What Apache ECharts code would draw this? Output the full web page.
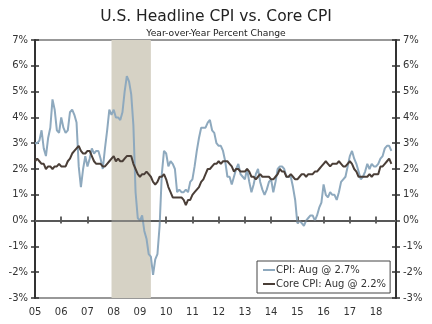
<!DOCTYPE html>
<html><head><meta charset="utf-8">
<script src="https://cdn.jsdelivr.net/npm/echarts@6/dist/echarts.min.js"></script>
<style>html,body{margin:0;padding:0;background:#fff}#c{width:432px;height:324px}</style>
</head><body><div id="c"></div>
<script>
// Monthly data, Jan 2005 .. Aug 2018 (year-over-year % change)
const startYear = 2005;
const cpi = [
 3.0,3.0,3.1,3.5,2.8,2.5,3.2,3.6,4.7,4.3,3.5,3.4,
 4.0,3.6,3.4,3.5,4.2,4.3,4.1,3.8,2.1,1.3,2.0,2.5,
 2.1,2.4,2.8,2.6,2.7,2.7,2.4,2.0,2.8,3.5,4.3,4.1,
 4.3,4.0,4.0,3.9,4.2,5.0,5.6,5.4,4.9,3.7,1.1,0.1,
 0.0,0.2,-0.4,-0.7,-1.3,-1.4,-2.1,-1.5,-1.3,-0.2,1.8,2.7,
 2.6,2.1,2.3,2.2,2.0,1.1,1.2,1.1,1.1,1.2,1.1,1.5,
 1.6,2.1,2.7,3.2,3.6,3.6,3.6,3.8,3.9,3.5,3.4,3.0,
 2.9,2.9,2.7,2.3,1.7,1.7,1.4,1.7,2.0,2.2,1.8,1.7,
 1.6,2.0,1.5,1.1,1.4,1.8,2.0,1.5,1.2,1.0,1.2,1.5,
 1.6,1.1,1.5,2.0,2.1,2.1,2.0,1.7,1.7,1.7,1.3,0.8,
 -0.1,0.0,-0.1,-0.2,0.0,0.1,0.2,0.2,0.0,0.2,0.5,0.7,
 1.4,1.0,0.9,1.1,1.0,1.0,0.8,1.1,1.5,1.6,1.7,2.1,
 2.5,2.7,2.4,2.2,1.9,1.6,1.7,1.9,2.2,2.0,2.2,2.1,
 2.1,2.2,2.4,2.5,2.8,2.9,2.9,2.7
];
const core = [
 2.3,2.4,2.3,2.2,2.2,2.0,2.1,2.1,2.0,2.1,2.1,2.2,
 2.1,2.1,2.1,2.3,2.4,2.6,2.7,2.8,2.9,2.7,2.6,2.6,
 2.7,2.7,2.5,2.3,2.2,2.2,2.2,2.1,2.1,2.2,2.3,2.4,
 2.5,2.3,2.4,2.3,2.3,2.4,2.5,2.5,2.5,2.2,2.0,1.8,
 1.7,1.8,1.8,1.9,1.8,1.7,1.5,1.4,1.5,1.7,1.7,1.8,
 1.6,1.3,1.1,0.9,0.9,0.9,0.9,0.9,0.8,0.6,0.8,0.8,
 1.0,1.1,1.2,1.3,1.5,1.6,1.8,2.0,2.0,2.1,2.2,2.2,
 2.3,2.2,2.3,2.3,2.3,2.2,2.1,1.9,2.0,2.0,1.9,1.9,
 1.9,2.0,1.9,1.7,1.7,1.6,1.7,1.8,1.7,1.7,1.7,1.7,
 1.6,1.6,1.7,1.8,2.0,1.9,1.9,1.7,1.7,1.8,1.7,1.6,
 1.6,1.7,1.8,1.8,1.7,1.8,1.8,1.8,1.9,1.9,2.0,2.1,
 2.2,2.3,2.2,2.1,2.2,2.2,2.2,2.3,2.2,2.1,2.1,2.2,
 2.3,2.2,2.0,1.9,1.7,1.7,1.7,1.7,1.7,1.8,1.7,1.8,
 1.8,1.8,2.1,2.1,2.2,2.3,2.4,2.2
];
const seriesNames = ['CPI: Aug @ 2.7%', 'Core CPI: Aug @ 2.2%'];
const recession = [2007 + 11/12, 2009 + 5/12]; // Dec 2007 - Jun 2009
const xMin = 2005, xMax = 2018.76;

const toPts = arr => arr.map((v, i) => [startYear + i/12, v]);
const font = 'DejaVu Sans';
const axisCol = '#333';
const yFmt = v => v + '%';
const xFmt = v => Number.isInteger(v) ? String(v % 100).padStart(2, '0') : '';

const chart = echarts.init(document.getElementById('c'), null, {renderer: 'canvas'});
chart.setOption({
  animation: false,
  backgroundColor: '#fff',
  title: [
    {text: 'U.S. Headline CPI vs. Core CPI', left: 'center', top: 4,
     textStyle: {fontFamily: font, fontSize: 15.5, fontWeight: 'normal', color: '#222'}},
    {text: 'Year-over-Year Percent Change', left: 'center', top: 24,
     textStyle: {fontFamily: font, fontSize: 9.2, fontWeight: 'normal', color: '#222'}}
  ],
  grid: {left: 35, right: 36, top: 40, bottom: 26, show: true, borderColor: axisCol, borderWidth: 1.2, backgroundColor: 'transparent'},
  legend: {
    orient: 'vertical', left: 257, top: 261, itemGap: 4,
    itemWidth: 12, itemHeight: 2, padding: [4, 4, 4, 6],
    borderColor: '#444', borderWidth: 1, backgroundColor: '#fff',
    textStyle: {fontFamily: font, fontSize: 10, color: '#333', padding: [0,0,0,-4]},
    data: [{name: seriesNames[0], icon: 'rect'}, {name: seriesNames[1], icon: 'rect'}]
  },
  xAxis: [
    {type: 'value', min: xMin, max: xMax, interval: 1,
     axisLine: {lineStyle: {color: axisCol, width: 2}},
     axisTick: {show: true, length: 3, inside: false, lineStyle: {color: axisCol, width: 1.5}},
     axisLabel: {formatter: xFmt, fontFamily: font, fontSize: 10, color: '#333', margin: 9},
     splitLine: {show: false}},
    {type: 'value', min: xMin, max: xMax, interval: 1, position: 'bottom',
     axisLine: {show: false},
     axisTick: {show: true, length: 4, inside: true, lineStyle: {color: axisCol, width: 1.5}},
     axisLabel: {show: false}, splitLine: {show: false}}
  ],
  yAxis: [
    {type: 'value', min: -3, max: 7, interval: 1, position: 'left',
     axisLine: {show: true, lineStyle: {color: axisCol, width: 2}},
     axisTick: {show: true, length: 4, lineStyle: {color: axisCol, width: 1.5}},
     axisLabel: {formatter: yFmt, fontFamily: font, fontSize: 10, color: '#333', margin: 7},
     splitLine: {show: false}},
    {type: 'value', min: -3, max: 7, interval: 1, position: 'right',
     axisLine: {show: true, lineStyle: {color: axisCol, width: 2}},
     axisTick: {show: true, length: 4, lineStyle: {color: axisCol, width: 1.5}},
     axisLabel: {formatter: yFmt, fontFamily: font, fontSize: 10, color: '#333', margin: 7},
     splitLine: {show: false}},
    {type: 'value', min: -3, max: 7, interval: 1, position: 'left',
     axisLine: {show: false}, axisTick: {show: true, inside: true, length: 4, lineStyle: {color: axisCol, width: 1.5}},
     axisLabel: {show: false}, splitLine: {show: false}},
    {type: 'value', min: -3, max: 7, interval: 1, position: 'right',
     axisLine: {show: false}, axisTick: {show: true, inside: true, length: 4, lineStyle: {color: axisCol, width: 1.5}},
     axisLabel: {show: false}, splitLine: {show: false}}
  ],
  series: [
    {name: 'recession', type: 'line', data: [], silent: true,
     markArea: {silent: true, itemStyle: {color: '#d6d2c5'}, data: [[{xAxis: recession[0]}, {xAxis: recession[1]}]]},
     markLine: {silent: true, symbol: 'none', label: {show: false}, lineStyle: {color: '#666', width: 1.5, type: 'solid'}, data: [{yAxis: 0}]}},
    {name: seriesNames[0], type: 'line', data: toPts(cpi), symbol: 'none', showSymbol: false,
     lineStyle: {color: '#8ea9be', width: 2}, itemStyle: {color: '#8ea9be'}, z: 3},
    {name: seriesNames[1], type: 'line', data: toPts(core), symbol: 'none', showSymbol: false,
     lineStyle: {color: '#4a3e37', width: 2}, itemStyle: {color: '#4a3e37'}, z: 4}
  ]
});
</script></body></html>
